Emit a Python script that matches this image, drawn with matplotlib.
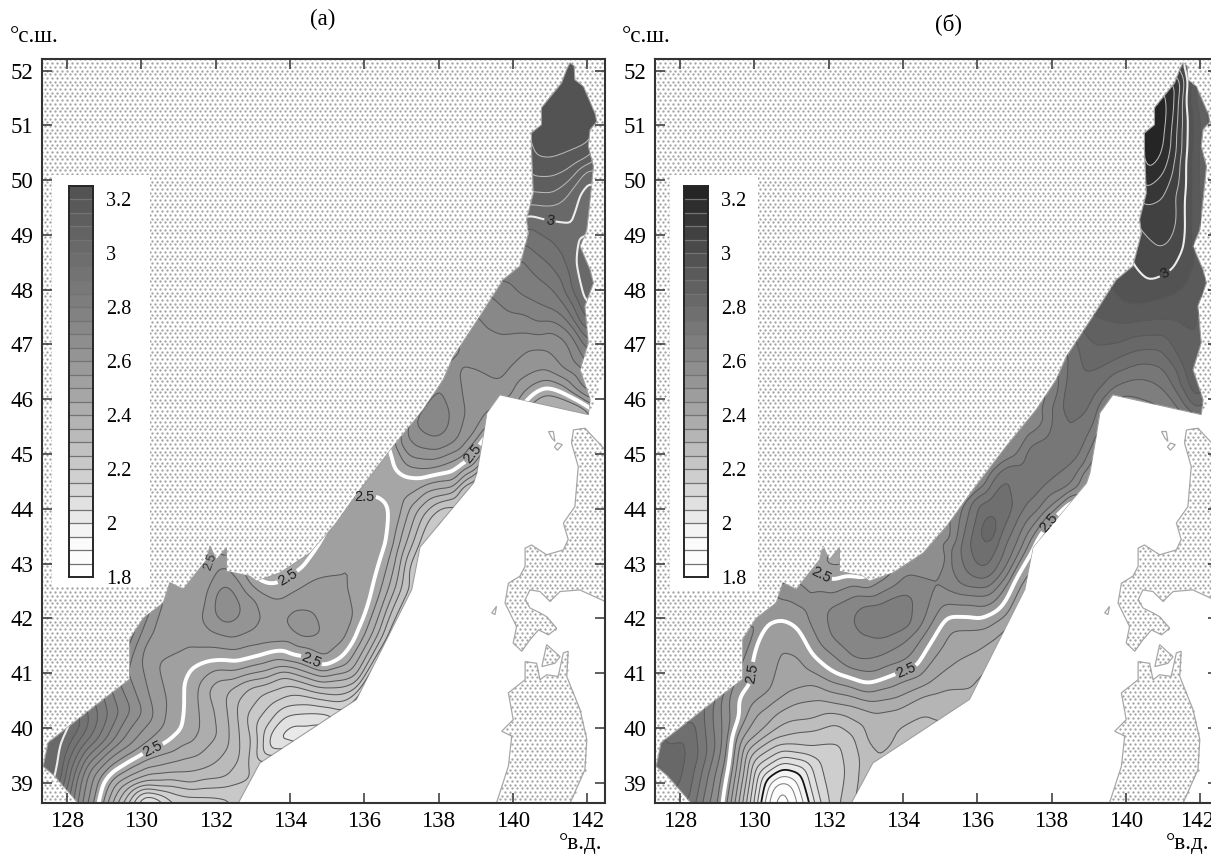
import numpy as np
import matplotlib
matplotlib.use("Agg")
import matplotlib.pyplot as plt
from matplotlib.patches import Polygon, Rectangle
from matplotlib.path import Path
from matplotlib.transforms import ScaledTranslation
from matplotlib.tri import Triangulation, LinearTriInterpolator

plt.rcParams['font.family'] = ['Liberation Serif', 'DejaVu Serif']
W, H = 1211, 855

# ---- geography (lon, lat) ----
west_coast = [(128.3,38.63),(127.67,39.12),(127.36,39.3),(127.49,39.73),(127.94,39.97),(128.75,40.4),(129.69,40.89),
 (129.69,41.62),(130.05,42.0),(130.59,42.28),(130.77,42.65),(131.13,42.53),(131.76,43.07),(131.85,43.32),(132.02,43.07),
 (132.29,43.29),(132.29,42.86),(132.92,42.77),(133.1,42.68),(133.73,42.83),(134.54,43.19),(135.21,43.71),(135.89,44.35),
 (136.78,45.14),(137.59,45.81),(138.13,46.36),(138.4,46.78),(139.11,47.51),(139.74,48.18),(140.19,48.43),(140.42,49.03),
 (140.37,49.28),(140.55,49.76),(140.5,50.56),(140.5,50.86),(140.77,51.01),(140.77,51.32),(140.95,51.47),(141.31,51.77),(141.45,52.02),(141.54,52.14)]
east_coast = [(141.65,52.08),(141.67,51.83),(141.9,51.71),(142.21,51.22),(142.26,51.07),(142.08,50.92),(142.03,50.62),(142.17,50.25),(142.08,49.64),(141.99,49.09),(141.81,48.79),
 (142.08,48.36),(142.17,48.12),(141.94,47.7),(142.03,47.03),(141.81,46.54),(142.08,45.99),(142.03,45.72)]
south_edge = [(139.65,46.08),(139.3,45.75),(139.2,45.32),(139.03,44.65),(138.94,44.47),(137.5,43.3),(137.28,42.53),
 (136.51,41.49),(135.79,40.52),(133.19,39.36),(132.61,38.63)]
hokkaido = [(141.63,45.44),(141.94,45.47),(142.48,45.08),(142.48,42.31),(141.8,42.52),(141.27,42.49),(141.0,42.31),(140.73,42.49),
 (140.46,42.52),(140.33,42.34),(140.46,42.19),(140.73,42.1),(140.91,42.03),(141.18,41.82),(140.96,41.7),(140.69,41.79),(140.46,41.61),
 (140.24,41.4),(140.01,41.55),(140.1,41.85),(139.79,42.28),(139.88,42.64),(140.19,42.77),(140.33,42.95),(140.33,43.28),(140.5,43.34),
 (140.91,43.16),(141.36,43.25),(141.49,43.44),(141.36,43.74),(141.67,44.04),(141.76,44.77),(141.58,45.2)]
honshu = [(139.56,38.63),(139.88,39.3),(139.97,39.85),(139.7,39.94),(140.01,40.15),(139.88,40.64),(140.33,40.88),(140.33,41.21),
 (140.64,41.18),(140.73,40.88),(140.91,40.97),(141.22,40.94),(141.36,41.37),(141.49,41.4),(141.45,40.94),(141.81,40.33),
 (141.99,39.79),(141.94,39.24),(141.54,38.63)]
shimokita = [(140.78,41.12),(140.91,41.52),(141.27,41.3),(141.13,41.18)]
islets = [[(139.43,42.1),(139.56,42.22),(139.52,42.07)],
          [(141.2,45.2),(141.33,45.17),(141.2,45.07),(141.12,45.13)],
          [(140.96,45.41),(141.09,45.41),(141.13,45.23),(141.05,45.29)]]

# ---- isolines: (level, [(lon, lat), ...]) ----
lines_a = [
 (2.5,[(128.84,38.5),(128.97,39.0),(129.96,39.49),(130.68,39.73),(131.08,39.97),(131.17,40.4),(131.17,40.76),(131.4,41.1),(131.85,41.22),(132.56,41.2),(133.28,41.34),(134.18,41.31),(134.9,41.1),(135.34,41.25),(135.84,41.86),(136.24,42.65),(136.65,43.44),(136.69,43.68),(136.65,44.1),(136.38,44.25),(135.8,44.17),(135.65,44.3)]),
 (2.5,[(136.7,45.3),(136.78,45.08),(136.92,44.68),(137.14,44.59),(138.13,44.65),(138.67,44.84),(139.03,45.14),(139.25,45.4)]),
 (2.5,[(132.95,42.75),(133.1,42.68),(133.37,42.59),(133.68,42.62),(133.95,42.74),(134.31,42.89),(134.63,43.2),(134.9,43.5)]),
 (2.5,[(140.3,45.9),(140.46,46.02),(140.86,46.21),(141.36,46.11),(141.99,45.9),(142.1,45.82)]),
 (2.55,[(128.65,38.5),(128.84,39.0),(129.15,39.3),(130.14,39.73),(130.59,40.03),(130.68,40.46),(130.59,40.76),(130.41,41.14),(130.45,41.2),(131.31,41.46),(132.38,41.43),(133.28,41.52),(134.18,41.46),(134.99,41.28),(135.52,41.62),(135.79,42.04),(136.06,42.83),(136.11,43.38),(136.02,43.68),(135.62,43.71),(135.44,43.62),(135.34,43.44),(134.99,43.01),(134.72,42.77),(134.09,42.5),(133.46,42.39),(133.19,42.47),(132.92,42.68),(132.85,42.85)]),
 (2.55,[(136.78,45.17),(137.05,44.84),(137.68,44.72),(138.49,44.9),(138.94,45.2),(139.25,45.5)]),
 (2.55,[(130.8,42.7),(130.86,42.44),(131.13,42.25),(131.4,42.38),(131.53,42.71),(131.76,42.92),(131.7,43.1)]),
 (2.55,[(140.1,45.9),(140.19,46.05),(140.64,46.3),(140.95,46.36),(141.94,45.99),(142.1,45.85)]),
 (2.6,[(130.59,42.4),(130.32,41.73),(130.05,41.5),(130.01,41.2),(130.28,40.4),(130.32,40.15),(129.69,39.67),(128.79,39.18),(128.53,38.5)]),
 (2.6,[(132.11,42.98),(131.76,42.41),(131.62,41.98),(131.93,41.74),(132.47,41.62),(133.1,41.8),(133.33,42.01),(133.1,42.35),(132.56,42.74),(132.29,42.95),(132.11,42.98)]),
 (2.6,[(133.68,42.01),(134.09,42.16),(134.63,42.13),(134.94,41.86),(134.94,41.65),(134.63,41.62),(134.09,41.77),(133.68,42.01)]),
 (2.6,[(136.96,45.17),(137.23,44.93),(137.95,44.9),(138.58,45.02),(139.03,45.38),(139.3,45.75),(139.65,46.08)]),
 (2.6,[(139.9,45.9),(140.01,46.05),(140.46,46.45),(140.91,46.54),(141.45,46.36),(141.94,46.08),(142.15,45.9)]),
 (2.65,[(129.6,41.0),(129.7,40.9),(130.05,40.28),(129.51,39.79),(128.61,39.24),(128.39,38.5)]),
 (2.65,[(132.2,42.65),(131.98,42.41),(131.98,42.07),(132.29,41.89),(132.61,42.01),(132.67,42.22),(132.47,42.53),(132.2,42.65)]),
 (2.65,[(137.1,45.32),(137.41,45.11),(137.95,45.05),(138.49,45.23),(138.71,45.75),(138.58,46.27),(138.31,46.45)]),
 (2.65,[(138.6,47.1),(138.67,46.97),(138.85,46.6),(139.65,46.3),(139.97,46.6),(140.46,46.91),(140.91,46.91),(141.36,46.54),(141.9,46.18),(142.1,46.0)]),
 (2.7,[(129.47,40.73),(129.74,40.34),(129.29,39.79),(128.38,39.06),(128.26,38.5)]),
 (2.7,[(137.3,45.65),(137.41,45.54),(137.59,45.38),(137.95,45.27),(138.26,45.45),(138.31,45.75),(138.08,46.11),(138.0,46.3)]),
 (2.7,[(139.11,47.51),(139.25,47.33),(139.74,47.18),(140.46,47.21),(141.0,47.27),(141.45,47.09),(141.9,46.6),(142.08,46.24)]),
 (2.75,[(129.24,40.61),(129.42,40.28),(129.06,39.79),(128.27,39.06),(128.15,38.5)]),
 (2.75,[(139.47,47.85),(139.92,47.57),(140.64,47.39),(141.09,47.42),(141.54,47.21),(141.94,46.72)]),
 (2.8,[(129.02,40.52),(129.11,40.22),(128.83,39.79),(128.17,39.06),(128.06,38.63)]),
 (2.8,[(139.83,48.18),(140.19,47.91),(140.82,47.7),(141.27,47.57),(141.63,47.3),(141.99,46.91)]),
 (2.85,[(128.79,40.4),(128.84,40.12),(128.6,39.79),(128.06,39.06),(127.94,38.76)]),
 (2.85,[(140.24,48.61),(140.64,48.24),(141.18,47.94),(141.54,47.57),(141.9,47.21)]),
 (2.9,[(128.57,40.31),(128.57,40.03),(128.36,39.79),(127.96,39.06),(127.85,38.82)]),
 (2.9,[(140.37,48.79),(140.95,48.49),(141.36,48.12),(141.72,47.51),(141.99,47.09)]),
 (2.95,[(128.35,40.19),(128.35,40.0),(128.13,39.79),(127.86,39.06),(127.76,38.91)]),
 (2.95,[(140.42,49.16),(141.0,48.91),(141.36,48.61),(141.58,48.0),(141.99,47.33)]),
 (3.0,[(128.2,40.15),(128.08,40.0),(127.85,39.61),(127.76,39.18),(127.67,39.0)]),
 (3.0,[(140.37,49.37),(140.86,49.28),(141.45,49.22),(141.63,49.34),(141.76,49.76),(142.17,50.13)]),
 (3.0,[(142.08,49.03),(141.76,48.91),(141.72,48.43),(141.9,47.88),(142.03,47.67)]),
 (3.05,[(141.96,48.43),(142.17,48.12),(142.03,47.88),(142.35,48.12),(141.96,48.43)]),
 (3.05,[(140.5,49.55),(141.18,49.55),(141.54,49.76),(142.17,50.22)]),
 (3.1,[(140.46,49.78),(141.09,49.75),(141.54,49.98),(142.15,50.34)]),
 (3.15,[(140.5,50.07),(141.09,50.07),(141.63,50.28),(142.12,50.46)]),
 (3.2,[(140.5,50.43),(141.0,50.34),(141.45,50.43),(142.03,50.59)]),
 (2.45,[(128.93,38.5),(129.11,38.94),(130.05,39.4),(130.86,39.55),(131.4,39.73),(131.58,39.97),(131.53,40.46),(131.58,40.82),(131.85,41.0),(132.56,41.04),(133.28,41.16),(134.18,41.19),(134.9,41.01),(135.52,41.13),(136.06,41.74),(136.47,42.53),(136.78,43.32),(137.1,44.17),(137.5,44.35),(138.4,44.47),(138.94,44.72),(139.2,45.02),(139.4,45.2)]),
 (2.45,[(140.5,45.9),(140.64,45.99),(140.91,46.08),(141.99,45.81),(142.1,45.75)]),
 (2.4,[(129.02,38.5),(129.2,38.82),(129.96,39.15),(131.13,39.43),(131.85,39.7),(132.07,39.85),(131.98,40.28),(131.76,40.7),(132.02,40.89),(132.92,40.98),(133.64,41.1),(134.9,40.92),(135.7,41.07),(136.24,41.74),(136.65,42.53),(136.96,43.38),(137.23,44.05),(137.59,44.29),(138.4,44.38),(138.98,44.68),(139.3,44.9)]),
 (2.4,[(140.73,45.93),(140.95,45.99),(141.99,45.75)]),
 (2.35,[(129.15,38.5),(129.42,38.91),(129.87,39.06),(130.77,39.18),(131.67,39.24),(132.38,39.67),(132.38,40.03),(132.29,40.52),(132.38,40.7),(133.1,40.89),(133.73,41.04),(134.9,40.82),(135.79,40.95),(136.42,41.74),(136.83,42.53),(137.14,43.38),(137.41,43.95),(137.77,44.2),(138.49,44.29),(139.0,44.59),(139.3,44.84)]),
 (2.3,[(129.29,38.5),(129.6,38.88),(130.14,39.03),(131.4,38.97),(132.29,39.09),(132.65,39.43),(132.61,40.03),(132.56,40.46),(132.92,40.76),(133.82,40.95),(134.9,40.73),(135.84,40.85),(136.51,41.68),(137.01,42.53),(137.32,43.38),(137.59,43.89),(137.95,44.1),(138.58,44.23),(139.03,44.53)]),
 (2.25,[(129.42,38.5),(129.74,38.88),(130.1,38.96),(130.59,38.91),(131.49,38.88),(132.29,38.91),(132.74,39.03),(132.95,39.05)]),
 (2.25,[(133.35,39.3),(133.24,39.4),(132.99,39.79),(132.83,40.22),(133.28,40.64),(134.0,40.79),(134.9,40.64),(135.88,40.76),(136.6,41.65),(137.14,42.53),(137.5,43.38),(137.77,43.83),(138.13,44.05),(138.85,44.41),(139.2,44.65)]),
 (2.2,[(133.1,39.3),(133.1,39.91),(133.55,40.46),(134.63,40.55),(135.79,40.58),(136.74,41.62),(137.32,42.83),(137.68,43.44),(138.04,43.86),(138.67,44.29),(139.1,44.6)]),
 (2.2,[(129.56,38.5),(129.83,38.82),(130.1,38.9),(130.68,38.84),(131.31,38.76),(132.29,38.76),(132.56,38.5)]),
 (2.15,[(129.69,38.5),(130.1,38.84),(130.68,38.76),(131.04,38.5)]),
 (2.15,[(133.24,39.43),(133.28,39.91),(133.73,40.34),(134.54,40.43),(135.34,40.34)]),
 (2.1,[(129.83,38.5),(130.1,38.77),(130.45,38.73),(130.72,38.5)]),
 (2.1,[(133.42,39.58),(133.46,39.85),(133.91,40.22),(134.63,40.28),(135.12,40.25)]),
 (2.05,[(129.96,38.5),(130.1,38.7),(130.32,38.68),(130.45,38.5)]),
 (2.05,[(133.6,39.67),(133.68,39.88),(134.09,40.09),(134.9,40.12)]),
]
extra_a = [(127.49,39.49,3.05),(127.2,39.0,3.05),(127.6,40.3,3.05),(127.3,39.9,3.05),(137.8,45.7,2.76),(132.3,42.2,2.71),(134.3,41.9,2.65),
           (141.3,51.2,3.22),(141.5,52.3,3.22),(140.7,50.9,3.22),(142.3,51.0,3.22),(140.0,52.3,3.22),(143.0,52.3,3.22),
           (134.18,39.85,2.02),(130.1,38.4,2.02),(135.0,39.5,2.0),(139.0,43.5,2.15),
           (135.9,44.6,2.47),(136.4,44.55,2.47),(136.5,45.2,2.47),(136.75,44.4,2.46),
           (133.6,42.9,2.47),(134.2,43.15,2.47),(133.0,42.9,2.47),(134.6,43.45,2.47),
           (141.95,49.35,2.97),(142.15,49.7,2.97),(142.3,49.5,2.96)]

lines_b = [
 (2.5,[(129.15,38.5),(129.33,39.3),(129.55,40.46),(129.64,40.64),(129.96,40.73),(129.98,41.0),(129.96,41.25),(130.05,41.62),(130.31,41.89),(130.72,41.98),(131.17,41.83),(131.53,41.37),(132.06,41.04),(132.96,40.81),(133.68,40.95),(134.4,41.13),(134.85,41.68),(135.2,42.04),(136.01,41.97),(136.46,42.1),(137.0,42.71),(137.63,43.5),(138.21,43.98),(138.53,44.23)]),
 (2.5,[(131.35,43.01),(131.62,42.86),(132.11,42.68),(132.96,42.68),(133.23,42.83)]),
 (2.45,[(129.26,38.5),(129.51,39.79),(129.91,40.4),(130.45,40.7),(130.54,40.95),(130.4,41.25),(130.54,41.59),(130.76,41.65),(131.17,41.37),(131.44,41.07),(132.15,40.82),(133.05,40.64),(133.86,40.82),(134.58,41.07),(135.07,41.49),(135.29,41.8),(135.92,41.8),(136.46,41.92),(137.09,42.53),(137.63,43.14),(138.1,43.7)]),
 (2.4,[(129.33,38.5),(129.64,39.79),(130.09,40.28),(130.9,40.64),(131.97,40.67),(133.14,40.47),(133.86,40.55),(134.58,40.76),(135.38,41.19),(135.92,41.37),(136.46,41.62),(136.9,41.9)]),
 (2.35,[(129.44,38.5),(129.61,39.24),(130.36,40.03),(131.17,40.46),(131.8,40.52),(132.69,40.4),(133.23,40.28),(133.86,40.34),(134.58,40.61),(135.03,40.67),(135.83,40.65),(136.1,40.9)]),
 (2.3,[(129.57,38.5),(129.76,39.24),(130.54,39.97),(131.53,40.15),(131.97,40.28),(132.51,40.22),(133.05,39.67),(133.14,39.4),(133.3,39.2)]),
 (2.3,[(133.5,39.4),(133.63,39.64),(133.86,40.0),(134.58,40.25),(135.79,40.52),(136.0,40.5)]),
 (2.25,[(129.66,38.5),(129.82,39.24),(130.72,39.82),(131.57,39.94),(132.2,40.1),(132.69,39.85),(132.87,39.43),(132.78,38.94),(132.6,38.5)]),
 (2.2,[(129.75,38.5),(129.91,39.18),(130.81,39.7),(131.53,39.64),(132.33,39.73),(132.47,39.24),(132.24,38.5)]),
 (2.15,[(129.87,38.5),(130.0,39.18),(130.76,39.59),(131.7,39.43),(132.02,38.5)]),
 (2.1,[(129.96,38.5),(130.09,39.18),(130.76,39.49),(131.53,39.33),(131.84,38.5)]),
 (2.05,[(130.05,38.5),(130.2,39.12),(130.76,39.38),(131.39,39.24),(131.66,38.5)]),
 (2.0,[(130.14,38.5),(130.29,39.06),(130.76,39.27),(131.26,39.18),(131.53,38.5)]),
 (1.95,[(130.22,38.5),(130.4,38.97),(130.76,39.15),(131.12,39.06),(131.39,38.5)]),
 (1.9,[(130.34,38.5),(130.49,38.91),(130.76,39.03),(131.03,38.94),(131.21,38.5)]),
 (1.85,[(130.47,38.5),(130.63,38.85),(130.76,38.91),(130.9,38.85),(131.03,38.5)]),
 (2.55,[(129.33,40.61),(129.35,40.03),(129.19,39.3),(129.0,38.5)]),
 (2.6,[(129.1,40.46),(129.15,39.79),(128.97,39.18),(128.74,38.5)]),
 (2.65,[(128.88,40.43),(128.97,39.67),(128.74,39.12),(128.57,38.5)]),
 (2.7,[(128.65,40.22),(128.74,39.55),(128.57,39.06),(128.43,38.5)]),
 (2.75,[(128.43,40.03),(128.52,39.49),(128.34,39.0),(128.25,38.6)]),
 (2.8,[(128.16,39.97),(128.2,39.43),(128.07,39.03)]),
 (2.55,[(130.5,42.45),(130.67,42.28),(131.44,41.98),(131.8,41.49),(132.51,41.1),(133.23,41.01),(134.04,41.22),(134.67,41.8),(135.03,42.22),(135.92,42.25),(136.46,42.31),(136.78,42.59),(137.34,43.32),(137.9,43.92),(138.62,44.29),(138.98,44.65),(139.25,44.84)]),
 (2.55,[(131.05,42.72),(131.26,42.68),(131.88,42.56),(132.78,42.62),(133.59,42.74),(134.67,42.89),(135.07,43.14),(135.2,43.44)]),
 (2.6,[(131.93,42.16),(132.06,41.68),(132.69,41.28),(133.41,41.31),(134.04,41.55),(134.58,41.98),(134.8,42.53),(134.67,42.77),(134.04,42.8),(132.78,42.44),(131.93,42.16)]),
 (2.65,[(132.42,41.92),(132.69,42.16),(134.13,42.5),(134.42,42.31),(134.26,41.86),(133.41,41.61),(132.78,41.49),(132.47,41.74),(132.42,41.92)]),
 (2.6,[(137.3,45.65),(136.91,45.08),(136.2,44.59),(135.39,43.98),(135.03,43.38),(135.07,42.89),(135.16,42.53),(135.56,42.44),(136.28,42.41),(136.82,42.77),(137.23,43.32),(137.99,44.02),(138.71,44.41),(139.07,44.84),(139.29,45.14)]),
 (2.65,[(138.08,46.24),(137.9,45.69),(137.54,45.38),(137.0,44.96),(136.28,44.65),(135.61,44.11),(135.25,43.32),(135.25,43.01),(135.56,42.59),(136.28,42.53),(136.91,43.08),(137.05,43.32),(137.63,43.92),(138.44,44.35),(138.98,44.72),(139.2,45.32),(139.35,45.6)]),
 (2.7,[(138.12,46.6),(138.03,45.87),(137.94,45.32),(137.45,45.17),(136.6,44.68),(135.84,44.11),(135.55,43.32),(135.66,42.89),(136.02,42.71),(136.46,42.83),(136.73,43.32),(137.36,44.11),(138.08,44.59),(138.71,44.9),(139.07,45.45),(139.25,45.93),(139.6,46.2),(140.59,46.36),(141.04,46.18),(141.49,45.81),(141.76,45.63)]),
 (2.75,[(135.77,43.32),(135.97,44.11),(136.82,44.65),(137.59,44.99),(137.9,44.96),(137.54,44.53),(137.0,44.05),(136.55,43.32),(136.28,42.92),(135.97,42.95),(135.77,43.32)]),
 (2.8,[(136.1,43.5),(136.19,43.83),(136.42,43.99),(136.54,43.8),(136.42,43.38),(136.24,43.21),(136.1,43.5)]),
 (2.75,[(138.48,46.9),(138.39,46.48),(138.17,45.75),(138.17,45.38),(138.3,45.2),(138.71,45.38),(138.98,45.69),(139.25,46.11),(139.6,46.45),(140.41,46.66),(140.95,46.6),(141.22,46.3),(141.58,45.87),(141.85,45.69)]),
 (2.8,[(138.62,47.21),(138.66,47.03),(138.84,46.45),(139.51,46.63),(140.23,46.88),(140.95,46.91),(141.4,46.54),(141.76,45.93),(141.94,45.69)]),
 (2.85,[(138.71,47.39),(138.84,47.21),(139.15,46.97),(139.87,47.03),(140.59,47.16),(141.04,47.18),(141.49,46.66),(141.94,45.93)]),
 (2.9,[(138.93,47.7),(139.11,47.51),(139.69,47.39),(140.77,47.45),(141.4,47.45),(141.62,47.21),(141.89,46.3),(141.98,45.99)]),
 (2.95,[(139.65,48.0),(139.87,47.76),(140.23,47.7),(140.77,47.79),(141.67,48.12),(141.89,48.49),(141.8,48.97),(141.77,49.64),(141.8,50.56),(141.71,51.59),(141.65,52.08)]),
 (2.9,[(142.2,48.5),(141.98,48.97),(141.98,49.95),(142.03,50.86),(141.85,51.77),(141.76,52.08)]),
 (2.85,[(142.25,49.34),(142.13,50.25),(142.16,51.1),(142.03,51.65),(141.94,51.89)]),
 (3.0,[(140.19,48.55),(140.23,48.43),(140.59,48.15),(140.86,48.2),(141.26,48.37),(141.58,48.85),(141.62,49.7),(141.65,50.86),(141.67,51.77),(141.58,52.14)]),
 (3.05,[(140.28,49.28),(140.37,49.13),(140.9,48.73),(141.22,48.85),(141.4,49.22),(141.44,50.25),(141.5,51.16),(141.56,52.0)]),
 (3.1,[(140.54,49.55),(141.04,49.7),(141.31,50.25),(141.41,51.16),(141.5,51.89)]),
 (3.15,[(140.5,49.83),(141.04,50.13),(141.22,50.56),(141.33,51.35),(141.4,51.71)]),
 (3.2,[(140.54,50.1),(140.95,50.43),(141.08,50.8),(141.17,51.35),(141.08,51.62)]),
]
extra_b = [(127.7,39.5,2.83),(127.2,39.0,2.85),(130.76,38.6,1.82),(130.76,38.4,1.82),(133.5,42.0,2.72),(134.5,39.9,2.27),(135.0,39.5,2.25),
           (132.1,43.1,2.42),(140.8,51.0,3.24),(140.75,50.6,3.24),(142.3,50.7,2.82),(139.8,45.9,2.62),(140.8,45.85,2.64),
           (140.0,52.3,3.24),(143.0,52.3,2.8),(139.5,43.5,2.4),(136.2,44.0,2.78),(136.32,43.6,2.88),(130.93,42.5,2.57)]

labels_a = [(130.32,39.6),(134.54,41.19),(133.95,42.74),(136.02,44.17),(138.89,45.02)]
labels3_a = [(141.0,49.27)]
labels_b = [(129.96,41.0),(134.08,41.05),(131.79,42.77),(137.94,43.74)]
labels3_b = [(141.04,48.3)]

# colour ramps (value -> grey)
ramp_vals = [1.8, 1.95, 2.0, 2.2, 2.4, 2.5, 2.6, 2.8, 3.0, 3.2, 3.25]
ramp_a = [1.0, 0.98, 0.93, 0.80, 0.69, 0.64, 0.59, 0.50, 0.42, 0.34, 0.31]
ramp_b = [1.0, 0.98, 0.93, 0.79, 0.66, 0.60, 0.54, 0.42, 0.31, 0.16, 0.13]
band_edges = np.round(np.arange(1.8, 3.2501, 0.05), 2)
xticks = [128,130,132,134,136,138,140,142]
yticks = list(range(39,53))
cbar_ticks = [1.8,2.0,2.2,2.4,2.6,2.8,3.0,3.2]
cbar_text = ['1.8','2','2.2','2.4','2.6','2.8','3','3.2']

XLIM = (127.327, 142.48)
YLIM = (38.63, 52.21)

fig = plt.figure(figsize=(W/100, H/100), dpi=100, facecolor='white')


def field(lines, extra):
    pts = {}
    for lev, seq in lines:
        for lo, la in seq:
            pts[(round(lo, 3), round(la, 3))] = lev
    for lo, la, v in extra:
        pts[(round(lo, 3), round(la, 3))] = v
    arr = np.array([(k[0], k[1], v) for k, v in pts.items()])
    return arr[:, 0], arr[:, 1], arr[:, 2]


def blur(Z, sigma):
    r = int(3*sigma)
    k = np.exp(-0.5*(np.arange(-r, r+1)/sigma)**2)
    k /= k.sum()
    good = np.isfinite(Z).astype(float)
    A = np.nan_to_num(Z)*good
    for axis in (0, 1):
        A = np.apply_along_axis(lambda v: np.convolve(v, k, 'same'), axis, A)
        good = np.apply_along_axis(lambda v: np.convolve(v, k, 'same'), axis, good)
    with np.errstate(invalid='ignore', divide='ignore'):
        return np.where(good > 1e-6, A/good, np.nan)


def panel(left_px, lines, extra, ramp, labels, labels3, box, cb_left_px, title, title_xy, ns_x, ew_x, is_b):
    ax = fig.add_axes([left_px/W, 1-803/H, 563/W, 744/H])
    ax.set_xlim(*XLIM); ax.set_ylim(*YLIM)
    sx = 37.15; sy = 54.8
    # stipple
    sea = west_coast + east_coast + south_edge
    main1 = [(127.327,38.63)] + west_coast + [(141.54,52.21),(127.327,52.21)]
    main2 = [(141.54,52.21),(141.54,52.14)] + east_coast + [(142.48,46.6),(142.48,52.21)]
    polys = [main1, main2, hokkaido, honshu, shimokita]
    gx = np.arange(XLIM[0], XLIM[1], 5.0/sx)
    gy = np.arange(YLIM[0], YLIM[1], 3.7/sy)
    X, Y = np.meshgrid(gx, gy)
    X = X + (np.arange(len(gy)) % 2)[:, None]*2.5/sx
    P = np.c_[X.ravel(), Y.ravel()]
    keep = np.zeros(len(P), bool)
    for p in polys:
        keep |= Path(p + [p[0]]).contains_points(P)
    ax.scatter(P[keep, 0], P[keep, 1], s=2.8, c='0.64', linewidths=0, zorder=1)
    for p in [hokkaido, honshu, shimokita] + islets:
        ax.add_patch(Polygon(p, closed=True, fill=False, ec='0.65', lw=0.9, zorder=2))
    # field: isolines -> triangulated surface -> regular grid, lightly smoothed
    x, y, z = field(lines, extra)
    tri = Triangulation(x, y)
    gxx = np.arange(127.2, 142.7, 2.5/sx)
    gyy = np.arange(38.45, 52.4, 2.5/sy)
    GX, GY = np.meshgrid(gxx, gyy)
    Z = np.ma.filled(LinearTriInterpolator(tri, z)(GX, GY), np.nan)
    for _ in range(3):
        Zb = blur(Z, 6)
        Z = np.where(np.isfinite(Z), Z, Zb)
    Z = blur(Z, 2.0)
    Z = np.where(np.isfinite(Z), Z, 2.5)
    Z = np.clip(Z, 1.801, 3.249)
    colors = [str(float(np.interp((a+b)/2, ramp_vals, ramp))) for a, b in zip(band_edges[:-1], band_edges[1:])]
    clip = Polygon(sea, closed=True, transform=ax.transData, fc='none', ec='0.62', lw=0.8, zorder=4)
    ax.add_patch(clip)
    cf = ax.contourf(GX, GY, Z, levels=band_edges, colors=colors, zorder=3)
    cf.set_clip_path(clip)
    other = [l for l in band_edges if l not in (2.5, 3.0)]
    lcols = ['0.72' if l > 3.0 else ('0.08' if (l == 2.0 and is_b) else ('0.5' if l < 2.0 else '0.35')) for l in other]
    lwid = [1.3 if (l == 2.0 and is_b) else 0.75 for l in other]
    cs = ax.contour(GX, GY, Z, levels=other, colors=lcols, linewidths=lwid, zorder=4)
    cs.set_clip_path(clip)
    c25 = ax.contour(GX, GY, Z, levels=[2.5], colors='white', linewidths=2.8, zorder=5)
    c25.set_clip_path(clip)
    c30 = ax.contour(GX, GY, Z, levels=[3.0], colors='0.93', linewidths=1.5, zorder=5)
    c30.set_clip_path(clip)
    for cset, lv, pos in ((c25, 2.5, labels), (c30, 3.0, labels3)):
        tx = ax.clabel(cset, levels=[lv], manual=pos, inline=True, inline_spacing=2, fmt='%g', fontsize=10.5,
                       colors='0.12')
        for t in tx:
            t.set_family(['Liberation Sans', 'DejaVu Sans'])
    if not is_b:
        ax.text(131.85, 43.04, '2.5', fontsize=9, color='0.2', rotation=70, ha='center', va='center',
                family=['Liberation Sans', 'DejaVu Sans'], zorder=6)
    # legend box
    ax.add_patch(Rectangle((box[0], box[1]), box[2]-box[0], box[3]-box[1], fc='white', ec='none', zorder=6))
    # axes cosmetics
    ax.set_xticks(xticks); ax.set_yticks(yticks)
    ax.tick_params(direction='in', top=True, right=True, length=7, width=1.1, color='0.2',
                   labelsize=16.5, pad=6, zorder=10)
    for s in ax.spines.values():
        s.set_linewidth(1.5); s.set_color('0.2'); s.set_zorder(11)
    if is_b:
        lab = ax.get_xticklabels()[-1]
        lab.set_transform(lab.get_transform() + ScaledTranslation(-2.5/72, 0, fig.dpi_scale_trans))
    # colour bar
    cax = fig.add_axes([cb_left_px/W, 1-577/H, 24/W, 391/H], zorder=5)
    cax.pcolormesh([0, 1], band_edges, np.array(band_edges[:-1]+0.025)[:, None],
                   cmap=matplotlib.colors.ListedColormap(colors),
                   norm=matplotlib.colors.BoundaryNorm(band_edges, len(colors)))
    cax.hlines(band_edges[1:-1], 0, 1, colors='0.45', lw=0.9)
    cax.set_xlim(0, 1); cax.set_ylim(1.8, 3.25); cax.set_xticks([])
    cax.set_yticks(cbar_ticks, cbar_text)
    cax.tick_params(axis='y', right=False, left=False, labelleft=False, labelright=True, labelsize=14.5, length=0, pad=9.4)
    for s in cax.spines.values():
        s.set_linewidth(1.4); s.set_color('0.15')
    fig.text(title_xy[0]/W, 1-title_xy[1]/H, title, fontsize=16.5, ha='center', va='center')
    fig.text(ns_x/W, 1-36/H, '°с.ш.', fontsize=16.7, ha='left', va='center')
    fig.text(ew_x/W, 1-843/H, '°в.д.', fontsize=16.7, ha='left', va='center')


panel(42, lines_a, extra_a, ramp_a, labels_a, labels3_a, (127.6, 42.58, 130.23, 50.1), 69, '(а)', (323, 19), 10, 559, False)
panel(655, lines_b, extra_b, ramp_b, labels_b, labels3_b, (127.72, 42.52, 130.1, 50.1), 684, '(б)', (948, 24), 622, 1166, True)
fig.savefig('out.png', dpi=100)
